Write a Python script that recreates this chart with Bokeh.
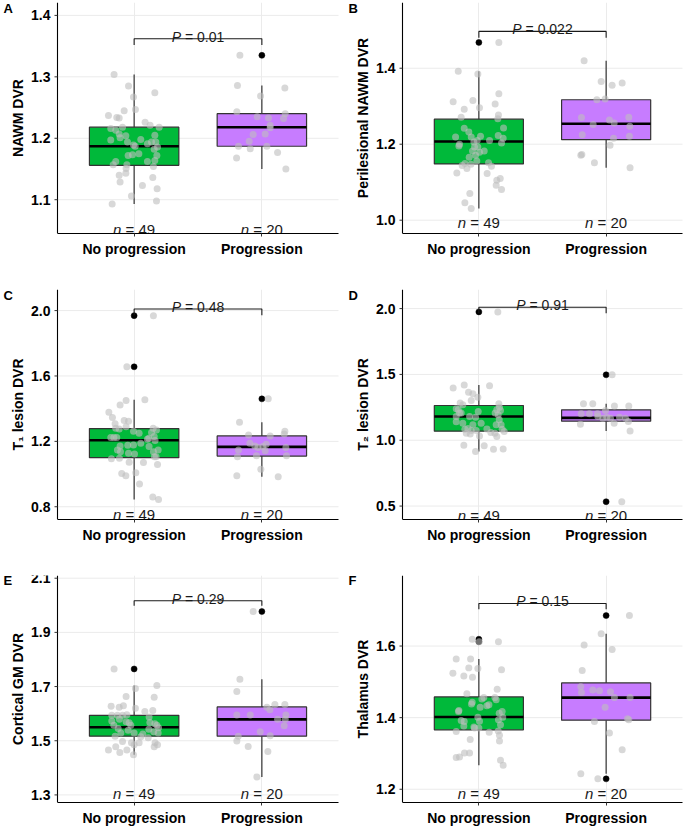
from bokeh.plotting import figure
from bokeh.layouts import column, row
from bokeh.models import Range1d, FixedTicker
from bokeh.core.properties import value
from bokeh.embed import file_html
from bokeh.resources import INLINE

# ---------------- data ----------------
categories = ["No progression", "Progression"]
group_n = [49, 20]
group_colors = ["#00B93A", "#C77CFF"]

# Panel A  NAWM DVR
A_nop = [1.304, 1.285, 1.267, 1.274, 1.247, 1.245, 1.237, 1.234, 1.233, 1.226, 1.221, 1.218, 1.216, 1.213, 1.218,
         1.207, 1.204, 1.205, 1.201, 1.194, 1.194, 1.194, 1.189, 1.187, 1.175, 1.173, 1.172, 1.182, 1.186, 1.172,
         1.162, 1.157, 1.162, 1.164, 1.154, 1.157, 1.151, 1.140, 1.143, 1.129, 1.136, 1.123, 1.118, 1.106, 1.098,
         1.093, 1.198, 1.191, 1.197]
A_nop_jit = [-0.157, -0.044, -0.005, 0.162, 0.010, -0.078, -0.201, -0.136, -0.117, 0.086, 0.125, 0.196, -0.183, -0.144,
             -0.091, -0.117, -0.065, 0.162, -0.110, -0.052, 0.136, 0.170, -0.005, 0.008, 0.037, -0.013, -0.047, 0.157,
             0.183, 0.178, -0.144, -0.057, 0.104, 0.162, 0.151, -0.164, -0.063, -0.117, -0.065, -0.110, 0.146, 0.065,
             0.180, -0.021, 0.175, -0.172, 0.052, 0.104, -0.183]
A_prog = [1.335, 1.286, 1.269, 1.243, 1.282, 1.235, 1.233, 1.240, 1.232, 1.221, 1.206, 1.207, 1.195, 1.187, 1.187,
          1.183, 1.168, 1.177, 1.150, 1.217]
A_prog_jit = [-0.172, -0.191, -0.010, -0.196, 0.180, -0.037, 0.052, 0.183, 0.170, 0.065, -0.068, 0.026, -0.099, -0.183,
              0.039, -0.091, -0.198, 0.123, 0.188, 0.065]
A_q1 = [1.156, 1.187]
A_med = [1.187, 1.218]
A_q3 = [1.218, 1.240]
A_lo = [1.093, 1.150]
A_hi = [1.304, 1.286]
A_out_group = [2]
A_out_val = [1.335]

# Panel B  Perilesional NAWM DVR
B_nop = [1.392, 1.385, 1.468, 1.312, 1.315, 1.296, 1.292, 1.306, 1.333, 1.271, 1.277, 1.267, 1.243, 1.242, 1.219,
         1.195, 1.200, 1.232, 1.219, 1.206, 1.221, 1.210, 1.210, 1.223, 1.216, 1.203, 1.193, 1.179, 1.182, 1.182,
         1.171, 1.166, 1.149, 1.147, 1.136, 1.156, 1.142, 1.123, 1.124, 1.105, 1.110, 1.092, 1.081, 1.070, 1.046,
         1.031, 1.151, 1.144, 1.193]
B_nop_jit = [-0.162, -0.008, 0.157, -0.202, -0.047, 0.005, -0.115, 0.128, 0.157, -0.139, 0.154, 0.149, 0.194, -0.115,
             -0.183, -0.157, -0.152, -0.079, -0.060, -0.039, 0.013, -0.013, 0.084, 0.152, 0.191, 0.178, -0.008, 0.005,
             -0.050, 0.042, -0.026, -0.076, -0.110, -0.063, -0.094, -0.016, 0.099, 0.065, -0.173, 0.141, 0.168, 0.136,
             0.178, -0.071, -0.110, -0.060, 0.076, -0.131, -0.034]
B_prog = [1.420, 1.365, 1.355, 1.361, 1.270, 1.317, 1.319, 1.264, 1.271, 1.256, 1.252, 1.225, 1.247, 1.221, 1.216,
          1.197, 1.171, 1.151, 1.138, 1.173]
B_prog_jit = [-0.173, -0.039, 0.047, 0.126, -0.194, -0.073, -0.008, 0.026, 0.178, 0.063, -0.102, -0.188, 0.186, 0.183,
              0.058, 0.031, -0.199, -0.092, 0.188, -0.191]
B_q1 = [1.148, 1.212]
B_med = [1.207, 1.254]
B_q3 = [1.266, 1.317]
B_lo = [1.031, 1.138]
B_hi = [1.392, 1.420]
B_out_group = [1]
B_out_val = [1.468]

# Panel C  T1 lesion DVR
C_nop = [1.969, 1.656, 1.450, 1.423, 1.454, 1.378, 1.346, 1.307, 1.327, 1.323, 1.280, 1.276, 1.223, 1.223, 1.223,
         1.290, 1.262, 1.280, 1.270, 1.254, 1.219, 1.213, 1.205, 1.229, 1.172, 1.178, 1.176, 1.137, 1.127, 1.123,
         1.137, 1.147, 1.106, 1.106, 1.094, 1.096, 1.072, 1.070, 1.059, 1.004, 0.990, 1.008, 0.939, 0.859, 0.845,
         1.188, 1.147, 1.250, 1.168]
C_nop_jit = [0.151, -0.057, -0.063, -0.110, 0.084, -0.198, -0.170, -0.149, -0.078, -0.044, -0.144, -0.117, -0.183,
             -0.159, -0.136, -0.063, -0.005, 0.149, 0.175, 0.136, 0.115, 0.104, 0.164, 0.157, -0.110, -0.005, -0.050,
             -0.107, -0.044, 0.003, 0.151, 0.188, 0.159, 0.172, -0.178, -0.115, -0.039, 0.073, 0.183, -0.097, -0.065,
             0.013, 0.042, 0.146, 0.191, 0.052, -0.131, 0.039, 0.117]
C_prog = [1.460, 1.317, 1.239, 1.233, 1.262, 1.245, 1.147, 1.106, 1.188, 1.172, 1.162, 1.168, 1.182, 1.112, 1.143,
          1.162, 1.112, 0.990, 1.029, 0.984]
C_prog_jit = [0.050, -0.175, -0.104, 0.065, 0.180, 0.175, -0.183, -0.191, -0.094, -0.055, -0.031, 0.008, 0.034, -0.042,
              0.026, 0.188, 0.193, -0.196, -0.008, 0.128]
C_q1 = [1.100, 1.110]
C_med = [1.207, 1.166]
C_q3 = [1.278, 1.233]
C_lo = [0.845, 0.984]
C_hi = [1.454, 1.317]
C_out_group = [1, 1, 2]
C_out_val = [1.969, 1.656, 1.460]

# Panel D  T2 lesion DVR
D_nop = [1.975, 1.396, 1.419, 1.414, 1.365, 1.353, 1.327, 1.302, 1.282, 1.269, 1.239, 1.231, 1.206, 1.277, 1.251,
         1.231, 1.206, 1.180, 1.180, 1.175, 1.218, 1.155, 1.117, 1.084, 1.117, 1.089, 1.074, 1.048, 1.084, 1.086,
         1.058, 1.066, 1.028, 1.033, 0.962, 0.959, 0.931, 0.934, 0.914, 1.226, 1.206, 1.129, 1.193, 1.117, 1.129,
         1.053, 1.053, 1.140, 1.074]
D_nop_jit = [0.149, -0.202, -0.115, 0.084, -0.081, -0.047, -0.008, -0.060, -0.147, -0.126, -0.178, -0.162, -0.139,
             0.157, 0.162, 0.141, 0.128, -0.178, -0.073, -0.026, -0.005, 0.160, 0.175, 0.183, 0.136, -0.086, -0.060,
             -0.068, -0.110, 0.063, 0.094, 0.199, 0.141, 0.005, -0.118, 0.042, 0.115, 0.191, -0.026, 0.170, -0.152,
             -0.126, 0.152, -0.047, 0.018, -0.099, 0.126, -0.178, -0.021]
D_prog = [1.497, 0.533, 1.277, 1.277, 1.226, 1.261, 1.261, 1.201, 1.122, 1.201, 1.201, 1.168, 1.175, 1.168, 1.175,
          1.129, 1.142, 1.071, 1.168, 1.180]
D_prog_jit = [0.047, 0.123, -0.178, -0.105, -0.005, 0.065, 0.178, -0.196, -0.202, -0.131, -0.068, -0.026, 0.005, 0.034,
              0.105, 0.063, 0.175, 0.188, 0.152, -0.065]
D_q1 = [1.069, 1.145]
D_med = [1.180, 1.170]
D_q3 = [1.264, 1.231]
D_lo = [0.914, 1.071]
D_hi = [1.419, 1.277]
D_out_group = [1, 2, 2]
D_out_val = [1.975, 1.497, 0.533]

# Panel E  Cortical GM DVR
E_nop = [1.765, 1.693, 1.704, 1.663, 1.661, 1.627, 1.624, 1.629, 1.620, 1.608, 1.612, 1.594, 1.594, 1.594, 1.596,
         1.573, 1.557, 1.579, 1.570, 1.566, 1.557, 1.545, 1.539, 1.529, 1.567, 1.563, 1.557, 1.548, 1.542, 1.533,
         1.529, 1.517, 1.529, 1.525, 1.511, 1.497, 1.493, 1.493, 1.493, 1.485, 1.478, 1.466, 1.478, 1.466, 1.457,
         1.448, 1.485, 1.515, 1.588]
E_nop_jit = [-0.157, 0.010, 0.178, -0.063, 0.157, -0.180, -0.117, -0.084, 0.010, 0.084, 0.146, -0.175, -0.131, -0.091,
             -0.057, -0.175, -0.159, -0.115, -0.063, -0.039, -0.026, -0.125, -0.047, 0.000, 0.123, 0.162, 0.178, 0.191,
             0.115, 0.154, 0.188, -0.149, -0.104, 0.068, 0.110, -0.091, -0.021, 0.039, 0.164, 0.183, 0.157, -0.201,
             -0.144, -0.057, -0.112, -0.005, 0.000, 0.052, 0.117]
E_prog = [1.977, 1.727, 1.682, 1.624, 1.634, 1.595, 1.595, 1.634, 1.614, 1.595, 1.579, 1.579, 1.555, 1.533, 1.518,
          1.517, 1.499, 1.479, 1.460, 1.366]
E_prog_jit = [-0.068, -0.172, -0.196, 0.039, 0.180, -0.196, -0.091, 0.102, 0.063, 0.188, 0.123, 0.183, 0.175, -0.013,
              0.065, -0.185, -0.196, -0.107, 0.047, -0.039]
E_q1 = [1.517, 1.517]
E_med = [1.550, 1.579]
E_q3 = [1.594, 1.625]
E_lo = [1.448, 1.366]
E_hi = [1.704, 1.727]
E_out_group = [1, 2]
E_out_val = [1.765, 1.977]

# Panel F  Thalamus DVR
F_nop = [1.619, 1.612, 1.612, 1.564, 1.564, 1.537, 1.524, 1.539, 1.516, 1.513, 1.534, 1.467, 1.479, 1.438, 1.443,
         1.456, 1.456, 1.450, 1.433, 1.420, 1.417, 1.412, 1.417, 1.401, 1.401, 1.392, 1.389, 1.390, 1.374, 1.394,
         1.380, 1.377, 1.361, 1.359, 1.363, 1.351, 1.371, 1.335, 1.339, 1.301, 1.301, 1.289, 1.290, 1.281, 1.267,
         1.452, 1.429, 1.371, 1.436]
F_nop_jit = [-0.052, 0.003, 0.154, -0.178, -0.065, -0.008, -0.204, -0.079, -0.118, -0.050, 0.178, -0.094, 0.144,
             -0.058, -0.052, 0.039, 0.126, 0.136, 0.063, -0.157, -0.160, 0.160, 0.183, -0.008, 0.188, -0.139, -0.115,
             0.005, -0.039, 0.154, 0.170, -0.118, -0.178, 0.081, 0.152, 0.162, 0.000, 0.162, -0.068, -0.113, -0.073,
             -0.178, -0.152, 0.170, 0.191, 0.024, 0.010, -0.034, 0.079]
F_prog = [1.685, 1.634, 1.603, 1.590, 1.532, 1.486, 1.470, 1.477, 1.472, 1.429, 1.456, 1.456, 1.389, 1.357, 1.310,
          1.394, 1.243, 1.229, 1.397, 1.475]
F_prog_jit = [0.183, -0.039, -0.173, 0.047, -0.188, -0.199, -0.194, -0.105, 0.034, -0.008, 0.065, 0.188, -0.092, 0.026,
              0.126, 0.178, -0.199, -0.065, 0.168, -0.052]
F_q1 = [1.366, 1.393]
F_med = [1.402, 1.456]
F_q3 = [1.458, 1.497]
F_lo = [1.267, 1.243]
F_hi = [1.564, 1.634]
F_out_group = [1, 1, 2, 2]
F_out_val = [1.619, 1.612, 1.685, 1.229]

panel_letters = ["A", "B", "C", "D", "E", "F"]
y_labels = ["NAWM DVR", "Perilesional NAWM DVR", "T\u2081 lesion DVR", "T\u2082 lesion DVR",
            "Cortical GM DVR", "Thalamus DVR"]
p_values = ["0.01", "0.022", "0.48", "0.91", "0.29", "0.15"]
bracket_top = [1.362, 1.497, 2.010, 2.010, 2.017, 1.719]
bracket_tip = [1.352, 1.480, 1.971, 1.964, 1.998, 1.703]
n_label_y = [1.051, 0.993, 0.755, 0.431, 1.305, 1.188]
y_limits = [(1.045, 1.421), (0.965, 1.573), (0.722, 2.129), (0.398, 2.145), (1.272, 2.110), (1.163, 1.797)]
y_ticks = [[1.1, 1.2, 1.3, 1.4], [1.0, 1.2, 1.4], [0.8, 1.2, 1.6, 2.0], [0.5, 1.0, 1.5, 2.0],
           [1.3, 1.5, 1.7, 1.9, 2.1], [1.2, 1.4, 1.6]]

# ---------------- helpers ----------------
FONT = "Liberation Sans"
CHAR_W = {"P": 0.667, "n": 0.556, " ": 0.278, "=": 0.584, ".": 0.278}
X_START, X_END = 0.4, 2.6   # discrete scale limits of the panel area


def text_width(s, size):
    return sum(CHAR_W.get(c, 0.556) for c in s) * size


def mixed_label(p, x, y, ital, rest, size, y_offset):
    # italic symbol followed by "= value"; SVG drops leading spaces so offset by hand
    total = text_width(ital + " " + rest, size)
    start = -total / 2.0
    common = dict(text_font=value(FONT), text_font_size=f"{size}px", text_color="#1A1A1A",
                  text_align="left", text_baseline="alphabetic", y_offset=y_offset)
    p.text(x=[x], y=[y], text=[ital], text_font_style="italic", x_offset=start, **common)
    p.text(x=[x], y=[y], text=[rest], text_font_style="normal",
           x_offset=start + text_width(ital + " ", size), **common)


def make_panel(i, d, width, pad_left, pad_right, height, border_top, border_bottom):
    ylo, yhi = y_limits[i]
    panel_w = width - pad_left - pad_right
    u = panel_w / (X_END - X_START)          # pixels per category unit
    fh = height - border_top - border_bottom  # frame height in pixels
    v = (yhi - ylo) / fh                      # data units per pixel (y)

    p = figure(width=width, height=height,
               x_range=Range1d(X_START - pad_left / u, X_END + pad_right / u),
               y_range=Range1d(ylo, yhi), y_axis_location=None,
               output_backend="svg", toolbar_location=None, title=None,
               min_border_left=0, min_border_right=0,
               min_border_top=border_top, min_border_bottom=border_bottom)
    p.outline_line_color = None
    p.background_fill_color = "white"
    for g in p.ygrid:
        g.visible = False

    xs = [1, 2]
    half = 0.35

    # horizontal grid lines limited to the panel area
    ticks = y_ticks[i]
    p.segment(x0=[X_START] * len(ticks), y0=ticks, x1=[X_END] * len(ticks), y1=ticks,
              line_color="#EBEBEB", line_width=1)

    # whiskers
    p.segment(x0=xs, y0=d["q3"], x1=xs, y1=d["hi"], line_color="#333333", line_width=1.2)
    p.segment(x0=xs, y0=d["q1"], x1=xs, y1=d["lo"], line_color="#333333", line_width=1.2)
    # boxes
    p.quad(left=[x - half for x in xs], right=[x + half for x in xs], top=d["q3"], bottom=d["q1"],
           fill_color=group_colors, line_color="#333333", line_width=1.2)
    # medians
    p.segment(x0=[x - half for x in xs], y0=d["med"], x1=[x + half for x in xs], y1=d["med"],
              line_color="black", line_width=2.6)
    # outliers
    p.scatter(x=d["out_g"], y=d["out_v"], size=6, fill_color="black", line_color="black", line_width=0.5)
    # jittered points
    px = [1 + j for j in d["nop_jit"]] + [2 + j for j in d["prog_jit"]]
    py = list(d["nop"]) + list(d["prog"])
    p.scatter(x=px, y=py, size=7, fill_color="#BEBEBE", fill_alpha=0.6, line_color=None)

    # significance bracket
    bt, tip = bracket_top[i], bracket_tip[i]
    p.line(x=[1, 1, 2, 2], y=[tip, bt, bt, tip], line_color="#1A1A1A", line_width=1.1)
    mixed_label(p, 1.5, bt, "P", "= " + p_values[i], 14, -2)

    # n labels
    for k, x in enumerate(xs):
        mixed_label(p, x, n_label_y[i], "n", "= " + str(group_n[k]), 15, 0)

    # ---- y axis drawn by hand (line, ticks, labels, title) ----
    p.segment(x0=[X_START], y0=[ylo], x1=[X_START], y1=[yhi], line_color="black", line_width=1.1)
    p.segment(x0=[X_START - 3 / u] * len(ticks), y0=ticks, x1=[X_START] * len(ticks), y1=ticks,
              line_color="#333333", line_width=1)
    p.text(x=[X_START] * len(ticks), y=ticks, text=[f"{t:.1f}" for t in ticks],
           text_font=value(FONT), text_font_style="bold", text_font_size="14px", text_color="black",
           text_align="right", text_baseline="middle", x_offset=-7)
    p.text(x=[X_START - 40 / u], y=[(ylo + yhi) / 2], text=[y_labels[i]], angle=90, angle_units="deg",
           text_font=value(FONT), text_font_style="bold", text_font_size="14px", text_color="black",
           text_align="center", text_baseline="middle")
    # panel letter
    p.text(x=[X_START - 54 / u], y=[yhi - 5.5 * v], text=[panel_letters[i]],
           text_font=value(FONT), text_font_style="bold", text_font_size="13px", text_color="black",
           text_align="left", text_baseline="middle")

    # ---- x axis ----
    p.xaxis.bounds = (X_START, X_END)
    p.xaxis.ticker = FixedTicker(ticks=xs)
    p.xaxis.major_label_overrides = {x: categories[k] for k, x in enumerate(xs)}
    ax = p.xaxis[0]
    ax.axis_line_color = "black"
    ax.axis_line_width = 1.1
    ax.major_tick_line_color = "#333333"
    ax.major_tick_out = 3
    ax.major_tick_in = 0
    ax.minor_tick_line_color = None
    ax.major_label_text_font = FONT
    ax.major_label_text_font_style = "bold"
    ax.major_label_text_font_size = "14px"
    ax.major_label_text_color = "black"
    ax.major_label_standoff = 4

    p.xgrid.ticker = FixedTicker(ticks=xs)
    p.xgrid.grid_line_color = "#EBEBEB"
    p.xgrid.grid_line_width = 1
    return p


panel_data = []
for nop, nj, prog, pj, q1, med, q3, lo, hi, og, ov in [
    (A_nop, A_nop_jit, A_prog, A_prog_jit, A_q1, A_med, A_q3, A_lo, A_hi, A_out_group, A_out_val),
    (B_nop, B_nop_jit, B_prog, B_prog_jit, B_q1, B_med, B_q3, B_lo, B_hi, B_out_group, B_out_val),
    (C_nop, C_nop_jit, C_prog, C_prog_jit, C_q1, C_med, C_q3, C_lo, C_hi, C_out_group, C_out_val),
    (D_nop, D_nop_jit, D_prog, D_prog_jit, D_q1, D_med, D_q3, D_lo, D_hi, D_out_group, D_out_val),
    (E_nop, E_nop_jit, E_prog, E_prog_jit, E_q1, E_med, E_q3, E_lo, E_hi, E_out_group, E_out_val),
    (F_nop, F_nop_jit, F_prog, F_prog_jit, F_q1, F_med, F_q3, F_lo, F_hi, F_out_group, F_out_val),
]:
    panel_data.append(dict(nop=nop, nop_jit=nj, prog=prog, prog_jit=pj, q1=q1, med=med, q3=q3,
                           lo=lo, hi=hi, out_g=og, out_v=ov))

row_geom = [(276, 2, 43), (276, 13, 33), (276, 23, 24)]
rows = []
for r in range(3):
    h, bt_, bb_ = row_geom[r]
    left = make_panel(2 * r, panel_data[2 * r], 342, 57, 4, h, bt_, bb_)
    right = make_panel(2 * r + 1, panel_data[2 * r + 1], 342, 60, 2, h, bt_, bb_)
    rows.append(row(left, right, spacing=0))

layout = column(*rows, spacing=0)

open("out.html", "w").write(file_html(layout, INLINE))
